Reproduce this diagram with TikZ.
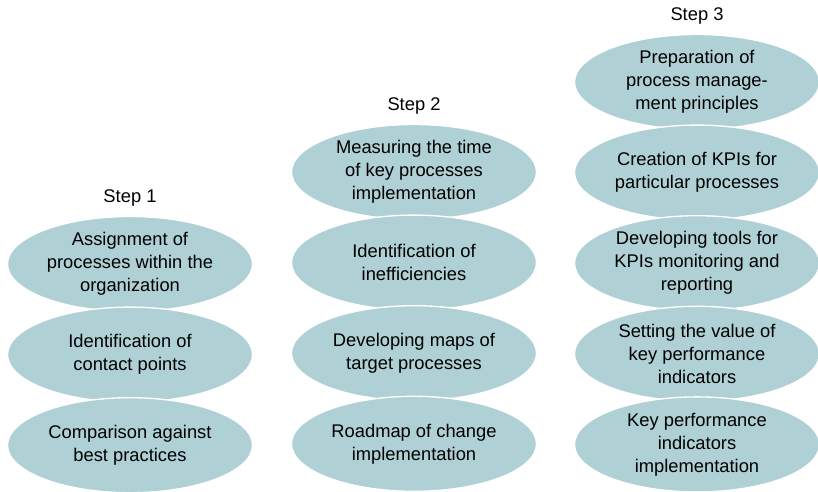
\documentclass[tikz,border=0pt]{standalone}
\usepackage{fontspec}
\setmainfont{Liberation Sans}
\usetikzlibrary{positioning, shapes.geometric}
\definecolor{stepFill}{RGB}{175,208,213}

\begin{document}
\begin{tikzpicture}[
    x=0.75pt, y=-0.75pt,
    node distance=-4.3pt,
    task/.style={ellipse, fill=stepFill, draw=white, line width=1pt, minimum width=183.75pt, minimum height=71.25pt, inner sep=0pt, align=center, font=\fontsize{13.75}{17.25}\selectfont},
    head/.style={font=\fontsize{13.75}{17.25}\selectfont, inner sep=1pt}
]
\useasboundingbox (0,0) rectangle (818,492);

% --- Step 1 (esquerda) ---
\node[task] (assign) at (130,264)
    {Assignment of\\processes within the\\organization};
\node[task, below=of assign] (contact)
    {Identification of\\contact points};
\node[task, below=of contact] (compare)
    {Comparison against\\best practices};
\node[head, above=6pt of assign] (step1) {Step 1};

% --- Step 2 (centro) ---
\node[task] (measure) at (414,172)
    {Measuring the time\\of key processes\\implementation};
\node[task, below=of measure] (ineff)
    {Identification of\\inefficiencies};
\node[task, below=of ineff] (maps)
    {Developing maps of\\target processes};
\node[task, below=of maps] (roadmap)
    {Roadmap of change\\implementation};
\node[head, above=6pt of measure] (step2) {Step 2};

% --- Step 3 (direita) ---
\node[task] (prep) at (697,82)
    {Preparation of\\process manage-\\ment principles};
\node[task, below=of prep] (create)
    {Creation of KPIs for\\particular processes};
\node[task, below=of create] (tools)
    {Developing tools for\\KPIs monitoring and\\reporting};
\node[task, below=of tools] (setval)
    {Setting the value of\\key performance\\indicators};
\node[task, below=of setval] (kpiimpl)
    {Key performance\\indicators\\implementation};
\node[head, above=6pt of prep] (step3) {Step 3};

\end{tikzpicture}
\end{document}
